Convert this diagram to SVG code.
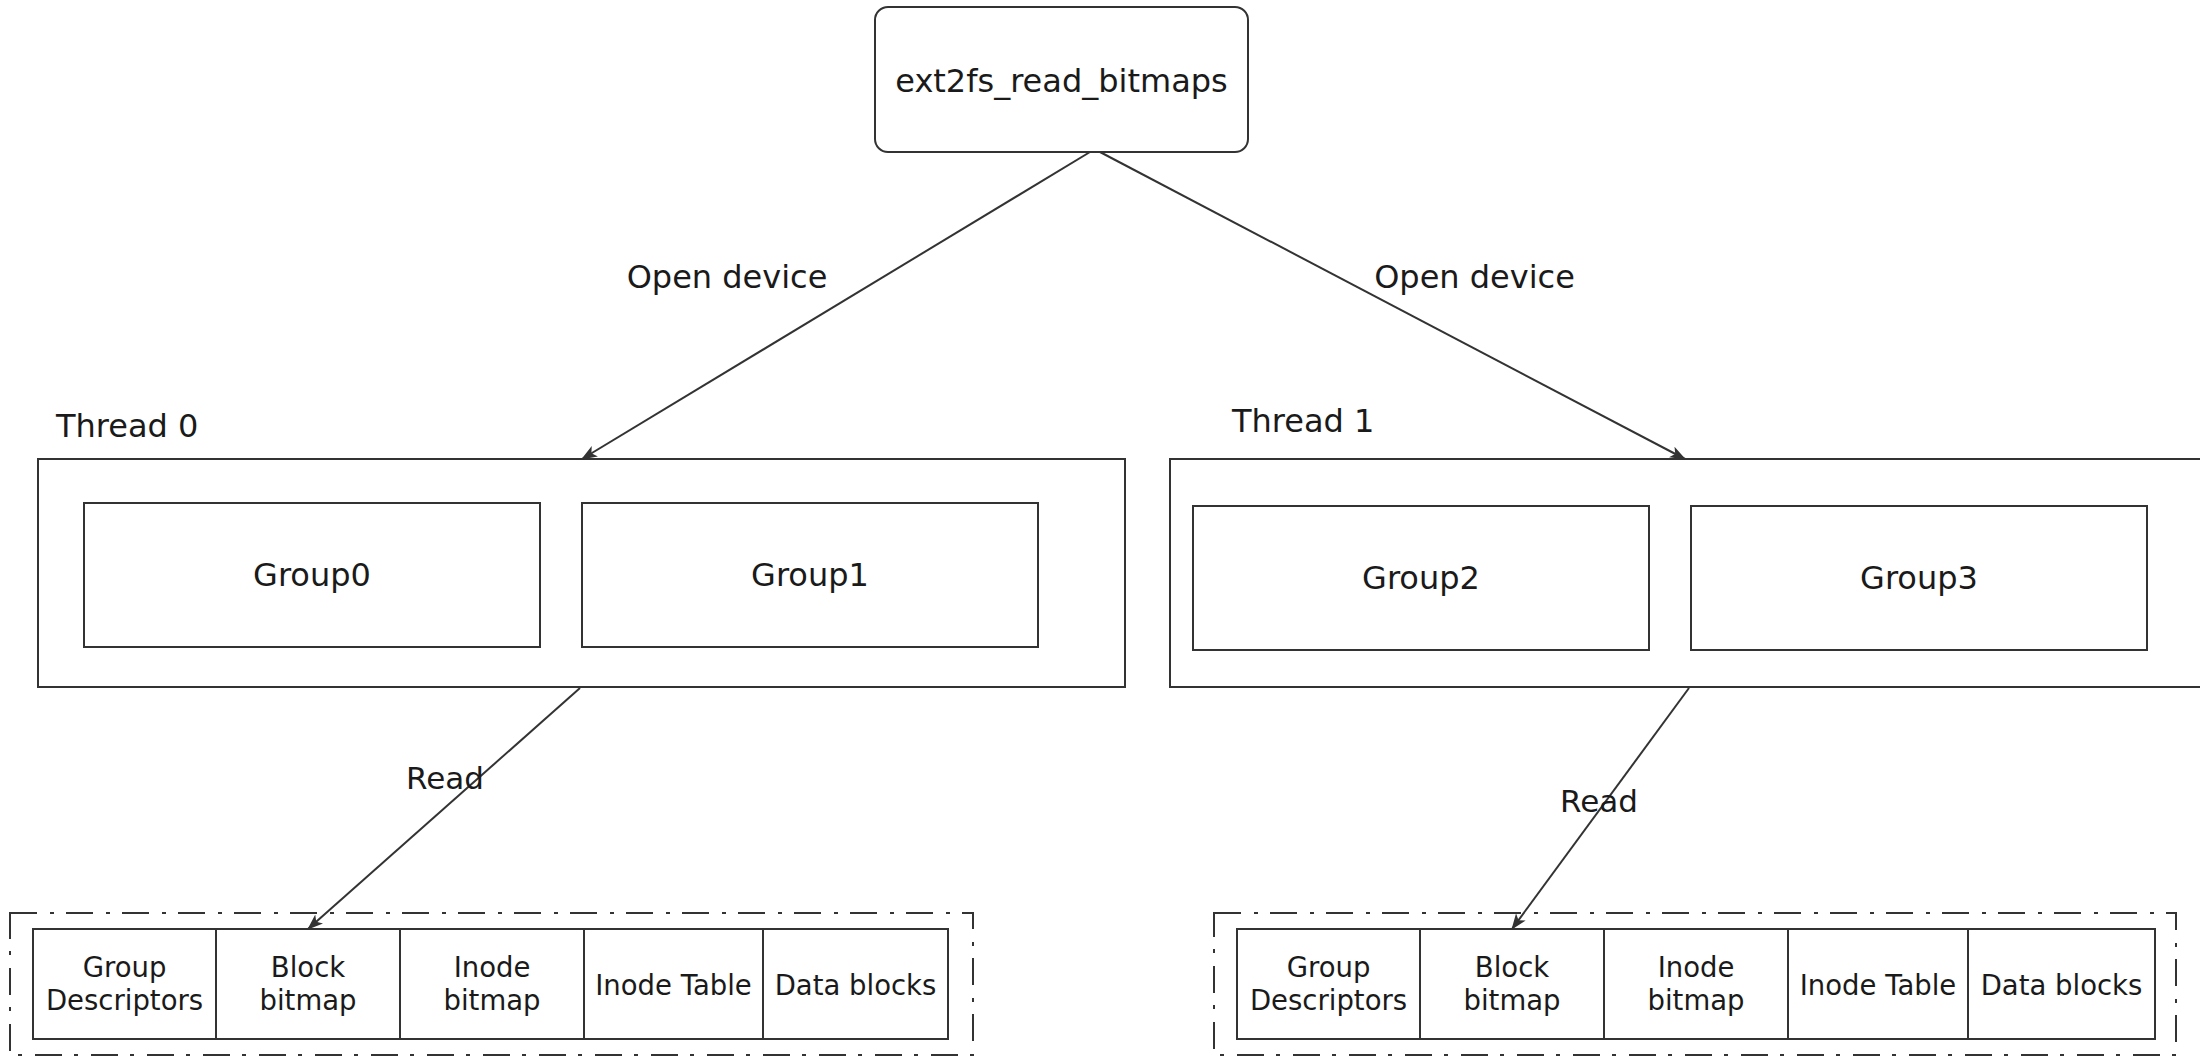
<svg xmlns="http://www.w3.org/2000/svg" width="2200" height="1057" viewBox="0 0 2200 1057">
  <style>
    .box { fill: #ffffff; stroke: #333333; stroke-width: 2; }
    .dash { fill: none; stroke: #333333; stroke-width: 2; stroke-dasharray: 27 13 4 12; }
    .edge { fill: none; stroke: #333333; stroke-width: 2; }
    .t { font-family: "DejaVu Sans", "Noto Sans", sans-serif; fill: #1a1a1a; }
    .lbl { font-size: 32px; text-anchor: middle; }
    .ttl { font-size: 32px; }
    .cell { font-size: 27.5px; text-anchor: middle; }
  </style>
  <defs>
    <marker id="arrow" viewBox="0 0 16 12" refX="15" refY="6" markerWidth="16" markerHeight="12" orient="auto" markerUnits="userSpaceOnUse">
      <path d="M0,0 L16,6 L0,12 L4,6 Z" fill="#333333"/>
    </marker>
  </defs>
  <rect width="2200" height="1057" fill="#ffffff"/>

  <g id="root">
    <rect class="box" x="875" y="7" width="373" height="145" rx="13"/>
    <text class="t lbl" x="1061.5" y="92">ext2fs_read_bitmaps</text>
  </g>

  <g id="thread0">
    <text class="t ttl" x="56" y="437">Thread 0</text>
    <rect class="box" x="38" y="459" width="1087" height="228"/>
  </g>
  <g id="group0">
    <rect class="box" x="84" y="503" width="456" height="144"/>
    <text class="t lbl" x="312" y="586">Group0</text>
  </g>
  <g id="group1">
    <rect class="box" x="582" y="503" width="456" height="144"/>
    <text class="t lbl" x="810" y="586">Group1</text>
  </g>

  <g id="thread1">
    <text class="t ttl" x="1232" y="432">Thread 1</text>
    <rect class="box" x="1170" y="459" width="1050" height="228"/>
  </g>
  <g id="group2">
    <rect class="box" x="1193" y="506" width="456" height="144"/>
    <text class="t lbl" x="1421" y="589">Group2</text>
  </g>
  <g id="group3">
    <rect class="box" x="1691" y="506" width="456" height="144"/>
    <text class="t lbl" x="1919" y="589">Group3</text>
  </g>

  <g id="layout0">
    <rect class="dash" x="10" y="913" width="963" height="142"/>
    <rect class="box" x="33" y="929" width="915" height="110"/>
    <line class="edge" x1="216" y1="929" x2="216" y2="1039"/>
    <line class="edge" x1="400" y1="929" x2="400" y2="1039"/>
    <line class="edge" x1="584" y1="929" x2="584" y2="1039"/>
    <line class="edge" x1="763" y1="929" x2="763" y2="1039"/>
    <text class="t cell" x="124.5" y="977">Group</text>
    <text class="t cell" x="124.5" y="1010">Descriptors</text>
    <text class="t cell" x="308" y="977">Block</text>
    <text class="t cell" x="308" y="1010">bitmap</text>
    <text class="t cell" x="492" y="977">Inode</text>
    <text class="t cell" x="492" y="1010">bitmap</text>
    <text class="t cell" x="673.5" y="995">Inode Table</text>
    <text class="t cell" x="855.5" y="995">Data blocks</text>
  </g>

  <g id="layout1">
    <rect class="dash" x="1214" y="913" width="962" height="142"/>
    <rect class="box" x="1237" y="929" width="918" height="110"/>
    <line class="edge" x1="1420" y1="929" x2="1420" y2="1039"/>
    <line class="edge" x1="1604" y1="929" x2="1604" y2="1039"/>
    <line class="edge" x1="1788" y1="929" x2="1788" y2="1039"/>
    <line class="edge" x1="1968" y1="929" x2="1968" y2="1039"/>
    <text class="t cell" x="1328.5" y="977">Group</text>
    <text class="t cell" x="1328.5" y="1010">Descriptors</text>
    <text class="t cell" x="1512" y="977">Block</text>
    <text class="t cell" x="1512" y="1010">bitmap</text>
    <text class="t cell" x="1696" y="977">Inode</text>
    <text class="t cell" x="1696" y="1010">bitmap</text>
    <text class="t cell" x="1878" y="995">Inode Table</text>
    <text class="t cell" x="2061.5" y="995">Data blocks</text>
  </g>

  <g id="connectors">
    <line class="edge" x1="1090" y1="152" x2="582" y2="459" marker-end="url(#arrow)"/>
    <text class="t lbl" x="727" y="288">Open device</text>
    <line class="edge" x1="1100" y1="152" x2="1685" y2="459" marker-end="url(#arrow)"/>
    <text class="t lbl" x="1474.5" y="288">Open device</text>
    <line class="edge" x1="580" y1="688" x2="308" y2="929" marker-end="url(#arrow)"/>
    <text class="t lbl" x="445" y="789" style="font-size:31px">Read</text>
    <line class="edge" x1="1689" y1="688" x2="1512" y2="929" marker-end="url(#arrow)"/>
    <text class="t lbl" x="1599" y="812" style="font-size:31px">Read</text>
  </g>
</svg>
